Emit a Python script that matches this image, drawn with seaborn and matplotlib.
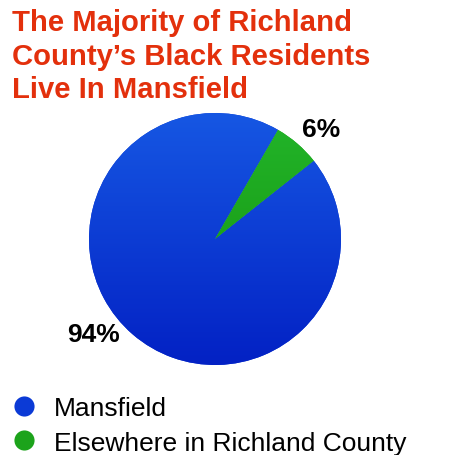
import numpy as np
import matplotlib
matplotlib.use("Agg")
import matplotlib.pyplot as plt
from matplotlib.lines import Line2D
from matplotlib.colors import LinearSegmentedColormap
import seaborn as sns

# Share of Richland County's Black residents by place of residence
places = ["Mansfield", "Elsewhere in Richland County"]
shares = [94, 6]
pct_labels = ["94%", "6%"]

title = "The Majority of Richland\nCounty\u2019s Black Residents\nLive In Mansfield"

# top/bottom shades for each slice (slight vertical gradient)
top_colors = ["#1657E3", "#22B52A"]
bottom_colors = ["#0321C4", "#16900C"]
mid_colors = ["#0B3AD6", "#1CA31B"]

sns.set_theme(style="white")
plt.rcParams["font.family"] = ["Liberation Sans", "DejaVu Sans"]

W, H = 465, 456
fig = plt.figure(figsize=(W / 100, H / 100), dpi=100)
fig.patch.set_facecolor("white")

# pie axes placed in pixel terms
cx, cy, r = 215, 240, 126
ax = fig.add_axes([(cx - r) / W, (H - cy - r) / H, 2 * r / W, 2 * r / H])
wedges, _ = ax.pie(shares, colors=mid_colors, startangle=60, counterclock=True,
                   wedgeprops=dict(linewidth=0))
ax.set_xlim(-1, 1)
ax.set_ylim(-1, 1)
ax.set_aspect("equal")
ax.axis("off")

# vertical gradient fill clipped to each wedge
for w, c0, c1 in zip(wedges, top_colors, bottom_colors):
    cmap = LinearSegmentedColormap.from_list("g", [c1, c0])
    grad = np.linspace(0, 1, 256).reshape(-1, 1)
    im = ax.imshow(grad, cmap=cmap, extent=(-1, 1, -1, 1), origin="lower",
                   aspect="auto", zorder=2)
    im.set_clip_path(w)

# percentage labels outside the slices
label_shift = [-11.4, -3.0]
label_dist = [1.225, 1.215]
for w, txt, sh, d in zip(wedges, pct_labels, label_shift, label_dist):
    a = np.deg2rad((w.theta1 + w.theta2) / 2 + sh)
    ax.text(d * np.cos(a), d * np.sin(a), txt, ha="center", va="center",
            fontsize=19, fontweight="bold", color="black", zorder=3)

fig.text(12 / W, 1 - 9 / H, title, ha="left", va="top", fontsize=21.1,
         fontweight="bold", color="#E3300C", linespacing=1.26)

handles = [Line2D([], [], marker="o", linestyle="none", markersize=14.5,
                  markerfacecolor=c, markeredgewidth=0) for c in mid_colors]
leg = fig.legend(handles, places, loc="upper left",
                 bbox_to_anchor=(10.8 / W, 1 - 397 / H), frameon=False,
                 fontsize=19, handlelength=1.0, handletextpad=0.64,
                 labelspacing=0.40, borderaxespad=0, borderpad=0,
                 labelcolor="black")

fig.savefig("out.png", dpi=100, facecolor="white")
